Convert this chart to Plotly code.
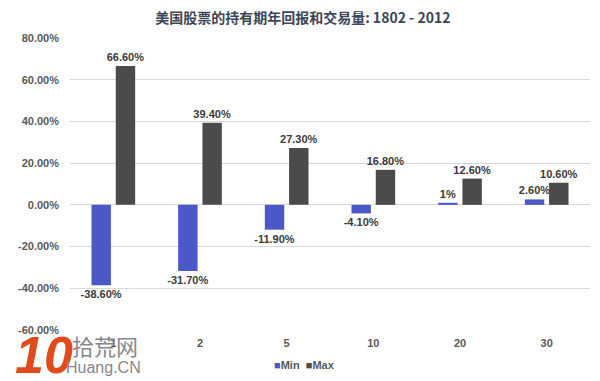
import plotly.graph_objects as go

categories = ["1", "2", "5", "10", "20", "30"]
min_values = [-38.6, -31.7, -11.9, -4.1, 1.0, 2.6]
max_values = [66.6, 39.4, 27.3, 16.8, 12.6, 10.6]
min_labels = ["-38.60%", "-31.70%", "-11.90%", "-4.10%", "1%", "2.60%"]
max_labels = ["66.60%", "39.40%", "27.30%", "16.80%", "12.60%", "10.60%"]
tick_vals = [-60, -40, -20, 0, 20, 40, 60, 80]
tick_text = ["-60.00%", "-40.00%", "-20.00%", "0.00%", "20.00%", "40.00%", "60.00%", "80.00%"]
MIN_COLOR = "#4A58C8"
MAX_COLOR = "#4B4B4B"

FONT = "Liberation Sans, Arial, sans-serif"
label_font = dict(family=FONT, size=11, color="#3a3a3a", weight="bold")

fig = go.Figure()
fig.add_trace(go.Bar(
    x=categories, y=min_values, name="Min",
    marker=dict(color=MIN_COLOR, line=dict(width=0)),
    text=min_labels, textposition="outside", textfont=label_font,
    constraintext="none", cliponaxis=False, showlegend=False,
))
fig.add_trace(go.Bar(
    x=categories, y=max_values, name="Max",
    marker=dict(color=MAX_COLOR, line=dict(width=0)),
    text=max_labels, textposition="outside", textfont=label_font,
    constraintext="none", cliponaxis=False, showlegend=False,
))

# page body has an 8px default margin, so the figure is sized to fit the window
W, H = 592, 373
fig.update_layout(
    width=W, height=H,
    margin=dict(l=52, r=10, t=30, b=51),
    paper_bgcolor="white", plot_bgcolor="white",
    barmode="group", bargap=0.44, bargroupgap=0.2,
    title=dict(
        text="美国股票的持有期年回报和交易量: 1802 - 2012",
        x=0.498, xanchor="center", xref="container",
        y=1 - 10 / H, yanchor="middle", yref="container",
        font=dict(family="Noto Sans CJK SC, " + FONT, size=14, color="#3d4656", weight="bold"),
    ),
    xaxis=dict(
        type="category", showgrid=False, showline=False, zeroline=False,
        ticks="", tickfont=dict(family=FONT, size=11, color="#595959", weight="bold"),
        ticklabelstandoff=5,
    ),
    yaxis=dict(
        range=[-60, 80], tickvals=tick_vals, ticktext=tick_text,
        showgrid=True, gridcolor="#d9d9d9", gridwidth=1,
        zeroline=True, zerolinecolor="#d9d9d9", zerolinewidth=1,
        showline=False, ticks="",
        tickfont=dict(family=FONT, size=11, color="#595959", weight="bold"),
        ticklabelstandoff=10,
    ),
    showlegend=False,
)

# legend drawn as text with coloured squares
legend_text = (f"<span style='color:{MIN_COLOR}'>■</span>Min  "
               f"<span style='color:{MAX_COLOR}'>■</span>Max")
fig.add_annotation(text=legend_text, xref="paper", yref="paper", x=0.45, y=-0.12,
                   xanchor="center", yanchor="middle", showarrow=False,
                   font=dict(family=FONT, size=11, color="#595959", weight="bold"))

# watermark
fig.add_annotation(text="<i>10</i>", xref="paper", yref="paper", x=-0.11, y=-0.086,
                   xanchor="left", yanchor="middle", showarrow=False,
                   font=dict(family=FONT, size=52, color="#e04a1c", weight="bold"))
fig.add_annotation(text="拾荒网", xref="paper", yref="paper", x=0.0, y=-0.05,
                   xanchor="left", yanchor="middle", showarrow=False,
                   font=dict(family="Noto Sans CJK SC", size=22, color="#888888"))
fig.add_annotation(text="Huang.CN", xref="paper", yref="paper", x=-0.012, y=-0.127,
                   xanchor="left", yanchor="middle", showarrow=False,
                   font=dict(family="Liberation Sans", size=16, color="#888888"))

fig.write_html("out.html")
